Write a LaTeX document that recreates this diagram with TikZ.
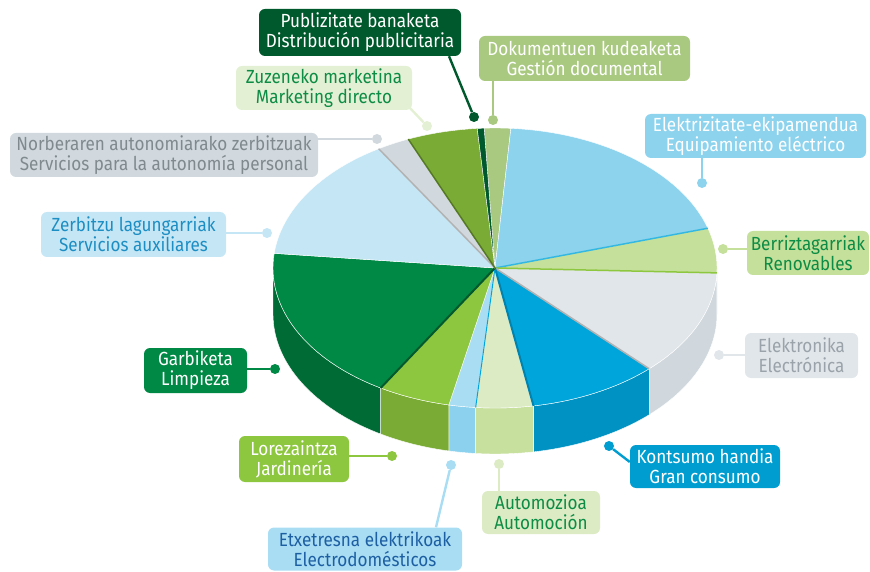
\documentclass[tikz,border=0pt]{standalone}
\usepackage{fontspec}
\setmainfont{Fira Sans}[FakeStretch=0.9]
\pgfdeclarelayer{back}
\pgfdeclarelayer{mid}
\pgfsetlayers{back,mid,main}
\definecolor{cPub}{HTML}{00592C}
\definecolor{cDok}{HTML}{A9C981}
\definecolor{cZuz}{HTML}{7AAB35}
\definecolor{cZuzL}{HTML}{E3F0D4}
\definecolor{cNor}{HTML}{D1D9DE}
\definecolor{cNorT}{HTML}{7F898E}
\definecolor{cEle}{HTML}{8DD3EE}
\definecolor{cZer}{HTML}{C5E6F5}
\definecolor{cZerT}{HTML}{1D8EC3}
\definecolor{cGar}{HTML}{008944}
\definecolor{cGarS}{HTML}{006B35}
\definecolor{cBer}{HTML}{C5E09B}
\definecolor{cBerS}{HTML}{B5D67E}
\definecolor{cGreenT}{HTML}{0C8C44}
\definecolor{cElk}{HTML}{E1E6EA}
\definecolor{cElkS}{HTML}{D0D8DE}
\definecolor{cElkT}{HTML}{9AA3A9}
\definecolor{cKon}{HTML}{00A6DB}
\definecolor{cKonS}{HTML}{0092C2}
\definecolor{cAut}{HTML}{DCEBC4}
\definecolor{cAutS}{HTML}{C7E09D}
\definecolor{cEtx}{HTML}{A9DDF3}
\definecolor{cEtxS}{HTML}{8CD2EE}
\definecolor{cEtxT}{HTML}{1D5FA3}
\definecolor{cLor}{HTML}{8DC63F}
\definecolor{cLorS}{HTML}{7AAB35}
\tikzset{
  lbl/.style={rounded corners=6pt, inner sep=0pt, align=center,
    font=\fontsize{19}{20}\selectfont},
  dotn/.style={circle, inner sep=0pt, minimum size=10pt},
  conn/.style={line width=2.4pt},
  rim/.style={draw=white, line width=0.4pt},
}
\newcommand{\PieTop}[3]{%
  \fill[#3, rim] (495,303) -- ({495+222*cos(#1)},{303+140*sin(#1)})
    arc[start angle=#1, end angle=#2, x radius=222, y radius=140] -- cycle;}
\newcommand{\PieSide}[3]{%
  \fill[#3, rim] ({495+222*cos(#1)},{303+140*sin(#1)})
    arc[start angle=#1, end angle=#2, x radius=222, y radius=140]
    -- ++(0,-46)
    arc[start angle=#2, end angle=#1, x radius=222, y radius=140] -- cycle;}
\newcommand{\PieEdge}[3]{%
  \draw[#2, line width=#3] (495,303) -- ({495+222*cos(#1)},{303+140*sin(#1)});}
\begin{document}
\begin{tikzpicture}[x=1pt,y=1pt]
\useasboundingbox (0,0) rectangle (870,571);
\begin{pgfonlayer}{back}
% sides
\PieSide{0}{-2}{cBerS}
\PieSide{-2}{-46}{cElkS}
\PieSide{-46}{-80}{cKonS}
\PieSide{-80}{-95}{cAutS}
\PieSide{-95}{-102}{cEtxS}
\PieSide{-102}{-121}{cLorS}
\PieSide{-121}{-180}{cGarS}
% tops
\PieTop{92.8}{85.9}{cDok}
\PieTop{85.9}{16.5}{cEle}
\PieTop{16.5}{-2}{cBer}
\PieTop{-2}{-46}{cElk}
\PieTop{-46}{-80}{cKon}
\PieTop{-80}{-95}{cAut}
\PieTop{-95}{-102}{cEtx}
\PieTop{-102}{-121}{cLor}
\PieTop{-121}{-186}{cGar}
\PieTop{-186}{-238.4}{cZer}
\PieTop{-238.4}{-247}{cNor}
\PieTop{-247}{-265.4}{cZuz}
\PieTop{-265.4}{-267.2}{cPub}
% visible radial walls
\PieEdge{16.5}{cKon!80}{1.5pt}
\PieEdge{-2}{cLor}{1.5pt}
\PieEdge{-46}{black!30}{1.5pt}
\PieEdge{-80}{cKonS!90!black}{2pt}
\PieEdge{-95}{cKon}{1pt}
\PieEdge{-121}{cPub}{2pt}
\PieEdge{121.6}{black!30}{1.5pt}
\PieEdge{113}{cZuz!70!black}{1.5pt}
\end{pgfonlayer}
% label boxes
\node[lbl, fill=cPub, text=white, minimum width=202pt, minimum height=47pt] (pub) at (360,538.5) {Publizitate banaketa\\Distribución publicitaria};
\node[lbl, fill=cDok, text=white, minimum width=211pt, minimum height=45pt] (dok) at (584.5,512.5) {Dokumentuen kudeaketa\\Gestión documental};
\node[lbl, fill=cZuzL, text=cGreenT, minimum width=176pt, minimum height=44pt] (zuz) at (324,483) {Zuzeneko marketina\\Marketing directo};
\node[lbl, fill=cNor, text=cNorT, minimum width=308pt, minimum height=44pt] (nor) at (164,416) {Norberaren autonomiarako zerbitzuak\\Servicios para la autonomía personal};
\node[lbl, fill=cEle, text=white, minimum width=221pt, minimum height=44pt] (ele) at (755.5,435) {Elektrizitate-ekipamendua\\Equipamiento eléctrico};
\node[lbl, fill=cZer, text=cZerT, minimum width=185pt, minimum height=45pt] (zer) at (133.5,336.5) {Zerbitzu lagungarriak\\Servicios auxiliares};
\node[lbl, fill=cGar, text=white, minimum width=103pt, minimum height=45pt] (gar) at (195.5,200.5) {Garbiketa\\Limpieza};
\node[lbl, fill=cBer, text=cGreenT, minimum width=122pt, minimum height=44pt] (ber) at (808,318) {Berriztagarriak\\Renovables};
\node[lbl, fill=cElk, text=cElkT, minimum width=113pt, minimum height=45pt] (elk) at (801.5,215.5) {Elektronika\\Electrónica};
\node[lbl, fill=cKon!95!black, text=white, minimum width=150pt, minimum height=43pt] (kon) at (705,104.5) {Kontsumo handia\\Gran consumo};
\node[lbl, fill=cLor, text=white, minimum width=110pt, minimum height=46pt] (lor) at (294,112) {Lorezaintza\\Jardinería};
\node[lbl, fill=cAut, text=cGreenT, minimum width=118pt, minimum height=43pt] (aut) at (541,58.5) {Automozioa\\Automoción};
\node[lbl, fill=cEtx, text=cEtxT, minimum width=194pt, minimum height=43pt] (etx) at (365,22) {Etxetresna elektrikoak\\Electrodomésticos};
% dots
\node[dotn, fill=cPub] (pubd) at (474,454) {};
\node[dotn, fill=cDok] (dokd) at (493,451) {};
\node[dotn, fill=cZuzL] (zuzd) at (427,445) {};
\node[dotn, fill=cNor] (nord) at (377,432) {};
\node[dotn, fill=cEle] (eled) at (702,388) {};
\node[dotn, fill=cZer] (zerd) at (267,338) {};
\node[dotn, fill=cGar] (gard) at (275,202) {};
\node[dotn, fill=cBer] (berd) at (723,322) {};
\node[dotn, fill=cElk] (elkd) at (719,216) {};
\node[dotn, fill=cKon!95!black] (kond) at (609,125) {};
\node[dotn, fill=cLor] (lord) at (392,115) {};
\node[dotn, fill=cAut] (autd) at (499,107) {};
\node[dotn, fill=cEtx] (etxd) at (451,106) {};
% connectors
\begin{pgfonlayer}{mid}
\draw[conn, draw=cPub] ([xshift=89pt]pub.south) -- (pubd);
\draw[conn, draw=cDok] (dokd) -- (dokd |- dok.south);
\draw[conn, draw=cZuzL] (zuzd) -- ([shift={(-3pt,3pt)}]zuz.south east);
\draw[conn, draw=cNor] (nord) -- (nord -| nor.east);
\draw[conn, draw=cEle] (eled) -- (eled |- ele.south);
\draw[conn, draw=cZer] (zerd) -- (zerd -| zer.east);
\draw[conn, draw=cGar] (gard) -- (gard -| gar.east);
\draw[conn, draw=cBer] (berd) -- (berd -| ber.west);
\draw[conn, draw=cElk] (elkd) -- (elkd -| elk.west);
\draw[conn, draw=cKon!95!black] (kond) -- ([yshift=4.5pt]kon.west);
\draw[conn, draw=cLor] (lord) -- (lord -| lor.east);
\draw[conn, draw=cAut] (autd) -- (autd |- aut.north);
\draw[conn, draw=cEtx] (etxd) -- ([xshift=71pt]etx.north);
\end{pgfonlayer}
\end{tikzpicture}
\end{document}
